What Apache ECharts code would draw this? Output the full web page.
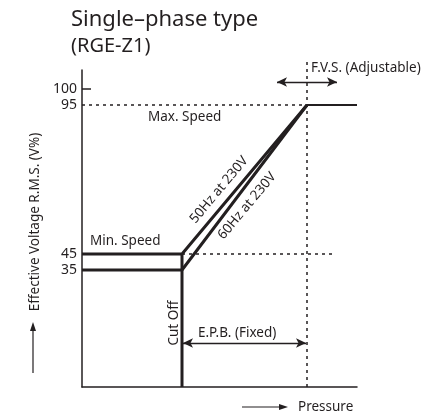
<!DOCTYPE html>
<html>
<head>
<meta charset="utf-8">
<script src="https://cdn.jsdelivr.net/npm/echarts@6/dist/echarts.min.js"></script>
<style>
  html, body { margin: 0; padding: 0; background: #fff; }
  #chart { width: 427px; height: 416px; }
</style>
</head>
<body>
<div id="chart"></div>
<script>
// voltage ticks (%) shown on the axis
var yTicks = [35, 45, 95, 100];
// pressure points (schematic units)
var pCutOff = 100, pFvs = 225, pEnd = 275;
// voltage levels
var vMin50 = 45, vMin60 = 35, vMax = 95;
// 50Hz and 60Hz curves
var line50 = [[0, vMin50], [pCutOff, vMin50], [pFvs, vMax]];
var line60 = [[0, vMin60], [pCutOff, vMin60], [pFvs, vMax]];
var lineTop = [[pFvs, vMax], [pEnd, vMax]];

// the drawing is a schematic: voltage axis is not linear
var vAnchor = [0, 35, 45, 95, 100, 106];
var yAnchor = [0, 117, 133, 282, 298, 317];
function ys(v) {
  for (var i = 1; i < vAnchor.length; i++) {
    if (v <= vAnchor[i]) {
      var t = (v - vAnchor[i - 1]) / (vAnchor[i] - vAnchor[i - 1]);
      return yAnchor[i - 1] + t * (yAnchor[i] - yAnchor[i - 1]);
    }
  }
  return yAnchor[yAnchor.length - 1];
}
function tr(arr) { return arr.map(function (p) { return [p[0], ys(p[1])]; }); }

var ink = '#231f20';
var font = '"Noto Sans", sans-serif';
var fs = '13.5px ';

var myChart = echarts.init(document.getElementById('chart'));

var option = {
  animation: false,
  grid: { left: 82, top: 70, width: 275, height: 317 },
  xAxis: {
    type: 'value', min: 0, max: pEnd,
    splitLine: { show: false }, axisTick: { show: false }, axisLabel: { show: false },
    axisLine: { lineStyle: { color: ink, width: 1.5 } }
  },
  yAxis: {
    type: 'value', min: 0, max: 317,
    splitLine: { show: false },
    axisLine: { show: true, lineStyle: { color: ink, width: 1.5 } },
    axisTick: { show: true, inside: true, length: 9, customValues: [ys(100)], lineStyle: { color: ink, width: 1.5 } },
    axisLabel: {
      customValues: yTicks.map(ys),
      formatter: function (val) {
        for (var i = 0; i < yTicks.length; i++) if (Math.abs(ys(yTicks[i]) - val) < 0.5) return String(yTicks[i]);
        return '';
      },
      color: ink, fontFamily: font, fontSize: 14, margin: 5
    }
  },
  series: [
    { type: 'line', data: tr(line50), symbol: 'none', lineStyle: { color: ink, width: 3 }, z: 5 },
    { type: 'line', data: tr(line60), symbol: 'none', lineStyle: { color: ink, width: 3 }, z: 5 },
    { type: 'line', data: tr(lineTop), symbol: 'none', lineStyle: { color: ink, width: 1.8 }, z: 5 },
    { type: 'line', data: [[pCutOff, 0], [pCutOff, ys(vMin50)]], symbol: 'none', lineStyle: { color: ink, width: 3 }, z: 5 },
    { type: 'line', data: tr([[0, vMax], [pFvs, vMax]]), symbol: 'none', lineStyle: { color: ink, width: 1.3, type: [3, 4] } },
    { type: 'line', data: tr([[pCutOff, vMin50], [250, vMin50]]), symbol: 'none', lineStyle: { color: ink, width: 1.3, type: [3, 4] } },
    {
      type: 'line', data: [[pFvs, 0], [pFvs, 325]], symbol: 'none', clip: false,
      lineStyle: { color: ink, width: 1.5, type: [3, 4] },
      markLine: {
        silent: true, symbol: ['arrow', 'arrow'], symbolSize: [7, 10],
        lineStyle: { color: ink, width: 1.3, type: 'solid' }, label: { show: false },
        data: [
          [{ coord: [pCutOff + 1, 44] }, { coord: [pFvs - 1, 44] }],
          [{ coord: [195, 305] }, { coord: [255, 305] }]
        ]
      }
    }
  ],
  graphic: [
    { type: 'text', x: 71, y: 20, style: { text: 'Single\u2013phase type', font: '22px ' + font, fill: ink, verticalAlign: 'middle' } },
    { type: 'text', x: 71, y: 46, style: { text: '(RGE-Z1)', font: '20px ' + font, fill: ink, verticalAlign: 'middle' } },
    { type: 'text', x: 311, y: 68, style: { text: 'F.V.S. (Adjustable)', font: fs + font, fill: ink, verticalAlign: 'middle' } },
    { type: 'text', x: 148, y: 117, style: { text: 'Max. Speed', font: fs + font, fill: ink, verticalAlign: 'middle' } },
    { type: 'text', x: 90, y: 241, style: { text: 'Min. Speed', font: fs + font, fill: ink, verticalAlign: 'middle' } },
    { type: 'text', x: 198, y: 333, style: { text: 'E.P.B. (Fixed)', font: fs + font, fill: ink, verticalAlign: 'middle' } },
    { type: 'text', x: 174, y: 323, rotation: Math.PI / 2, style: { text: 'Cut Off', font: fs + font, fill: ink, align: 'center', verticalAlign: 'middle' } },
    { type: 'text', x: 219, y: 190, rotation: 50 * Math.PI / 180, style: { text: '50Hz at 230V', font: fs + font, fill: ink, align: 'center', verticalAlign: 'middle' } },
    { type: 'text', x: 247, y: 206, rotation: 50 * Math.PI / 180, style: { text: '60Hz at 230V', font: fs + font, fill: ink, align: 'center', verticalAlign: 'middle' } },
    { type: 'text', x: 35, y: 222, rotation: Math.PI / 2, style: { text: 'Effective Voltage R.M.S. (V%)', font: fs + font, fill: ink, align: 'center', verticalAlign: 'middle' } },
    { type: 'line', shape: { x1: 33, y1: 373, x2: 33, y2: 330 }, style: { stroke: ink, lineWidth: 1.2 } },
    { type: 'polygon', shape: { points: [[33, 322], [30, 331], [36, 331]] }, style: { fill: ink } },
    { type: 'line', shape: { x1: 242, y1: 407, x2: 280, y2: 407 }, style: { stroke: ink, lineWidth: 1.2 } },
    { type: 'polygon', shape: { points: [[288, 407], [279, 404], [279, 410]] }, style: { fill: ink } },
    { type: 'text', x: 298, y: 407, style: { text: 'Pressure', font: fs + font, fill: ink, verticalAlign: 'middle' } }
  ]
};

myChart.setOption(option);
</script>
</body>
</html>
